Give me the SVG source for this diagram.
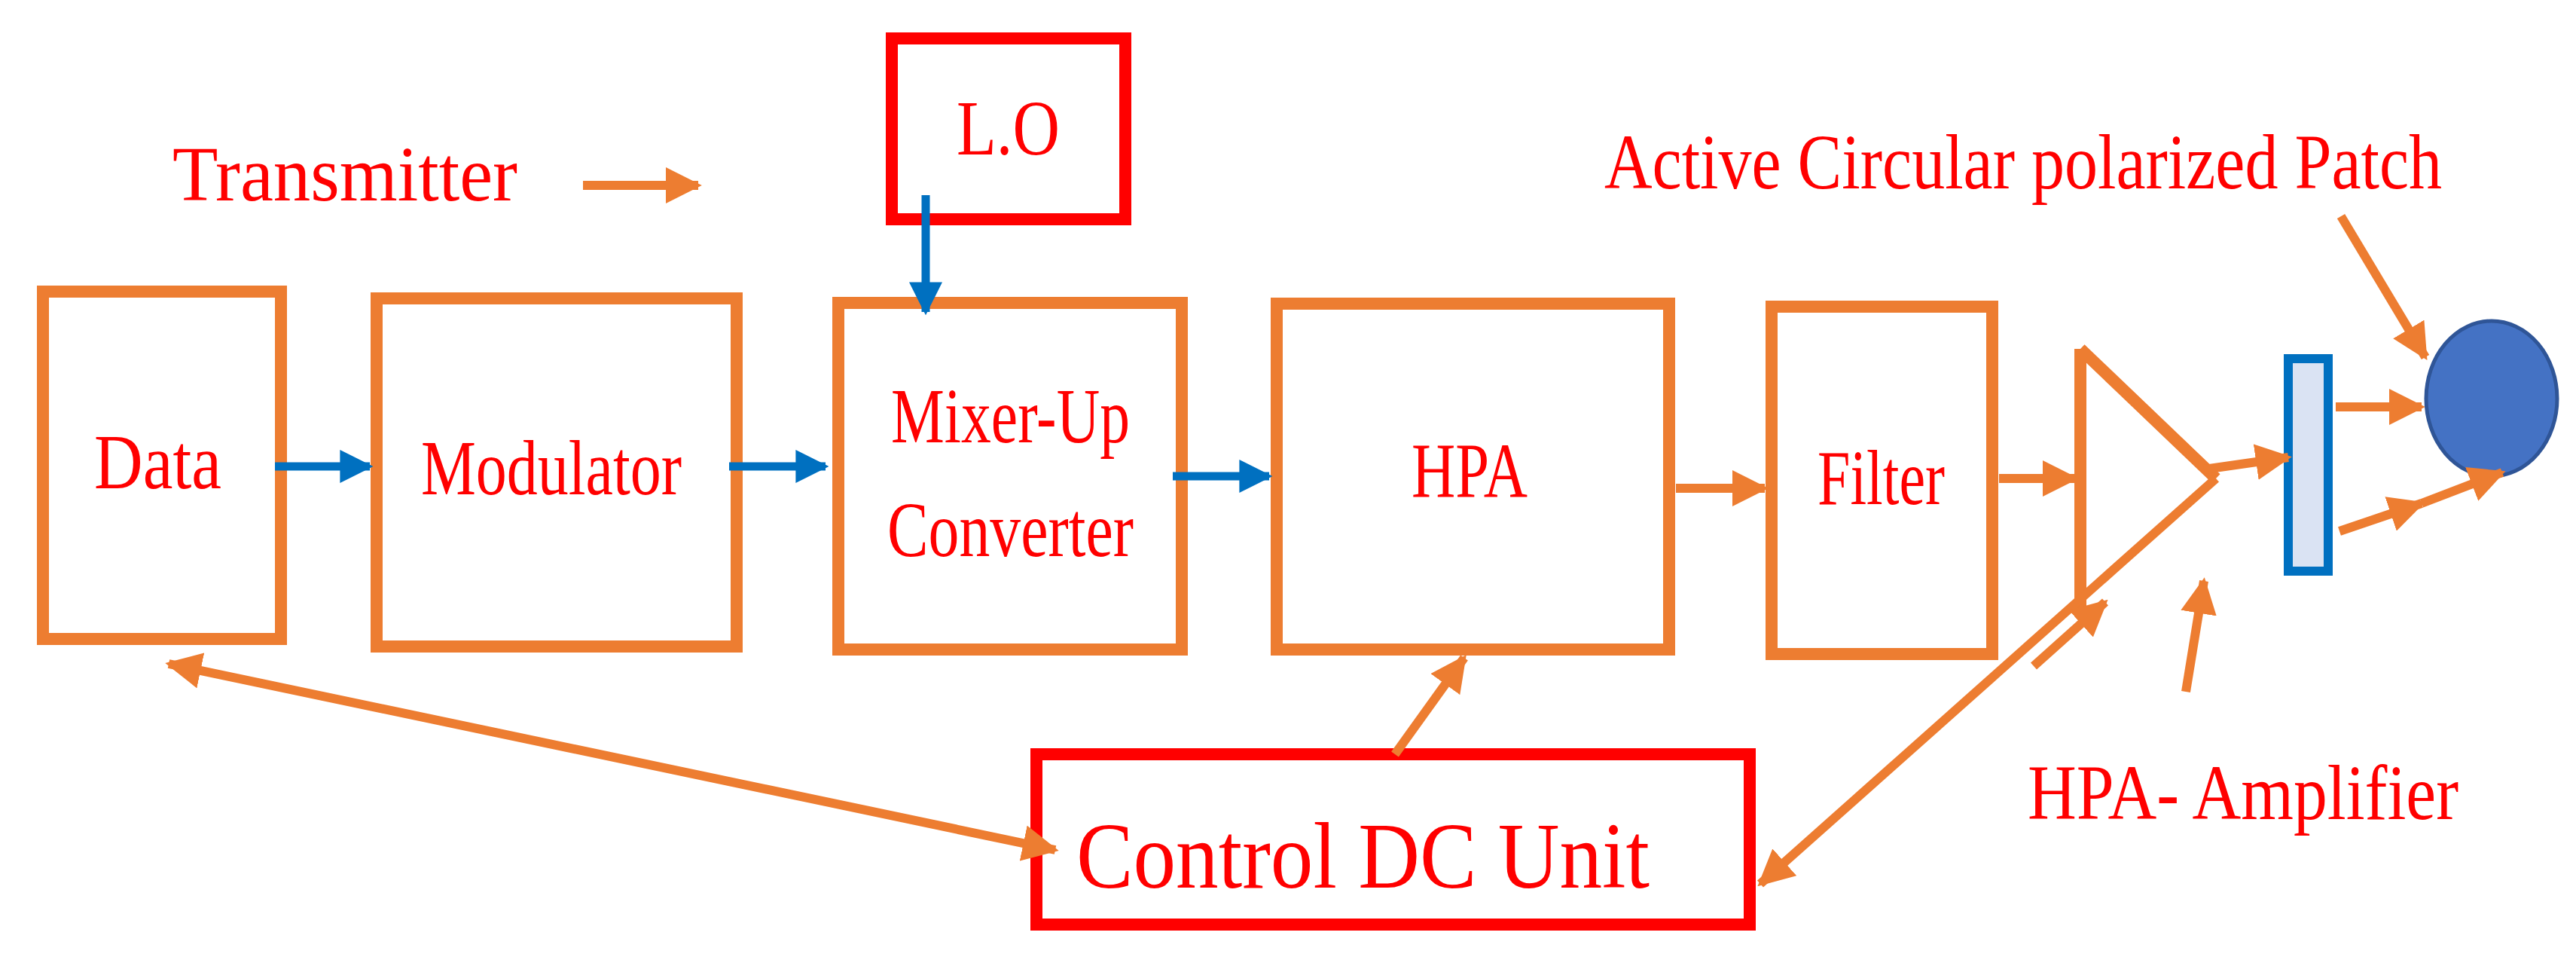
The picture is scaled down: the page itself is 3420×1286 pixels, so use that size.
<svg xmlns="http://www.w3.org/2000/svg" width="3420" height="1286" viewBox="0 0 3420 1286">
<style>
.ob{fill:none;stroke:#ed7d31;stroke-width:16}
.rb{fill:none;stroke:#ff0000;stroke-width:16}
.t{font-family:"Liberation Serif",serif;fill:#ff0000;font-size:104px}
.bl{stroke:#0070c0;stroke-width:11;fill:none}
.or{stroke:#ed7d31;stroke-width:12;fill:none}
</style>
<defs>
<marker id="ab" viewBox="0 0 10 10" refX="9" refY="5" markerWidth="4" markerHeight="4" orient="auto-start-reverse" markerUnits="strokeWidth"><path d="M0,0 L10,5 L0,10 z" fill="#0070c0"/></marker>
<marker id="ao" viewBox="0 0 10 10" refX="9" refY="5" markerWidth="4" markerHeight="4" orient="auto-start-reverse" markerUnits="strokeWidth"><path d="M0,0 L10,5 L0,10 z" fill="#ed7d31"/></marker>
</defs>
<rect width="3420" height="1286" fill="#fff"/>
<text class="t" x="229" y="266" textLength="458" lengthAdjust="spacingAndGlyphs">Transmitter</text>
<text class="t" x="2130" y="250" textLength="1112" lengthAdjust="spacingAndGlyphs">Active Circular polarized Patch</text>
<text class="t" x="2692" y="1087" textLength="572" lengthAdjust="spacingAndGlyphs">HPA- Amplifier</text>
<g id="data"><rect class="ob" x="57" y="387" width="316" height="461"/><text class="t" x="125" y="648" textLength="169" lengthAdjust="spacingAndGlyphs">Data</text></g>
<g id="modulator"><rect class="ob" x="500" y="396" width="478" height="462"/><text class="t" x="559" y="656" textLength="346" lengthAdjust="spacingAndGlyphs">Modulator</text></g>
<g id="mixer"><rect class="ob" x="1113" y="402" width="456" height="460"/><text class="t" x="1183" y="587" textLength="317" lengthAdjust="spacingAndGlyphs">Mixer-Up</text><text class="t" x="1178" y="738" textLength="327" lengthAdjust="spacingAndGlyphs">Converter</text></g>
<g id="lo"><rect class="rb" x="1184" y="51" width="310" height="240"/><text class="t" x="1270" y="205" textLength="137" lengthAdjust="spacingAndGlyphs">L.O</text></g>
<g id="hpa"><rect class="ob" x="1695" y="403" width="521" height="459"/><text class="t" x="1874" y="660" textLength="154" lengthAdjust="spacingAndGlyphs">HPA</text></g>
<g id="filter"><rect class="ob" x="2352" y="407" width="293" height="461"/><text class="t" x="2413" y="669" textLength="169" lengthAdjust="spacingAndGlyphs">Filter</text></g>
<g id="control"><rect class="rb" x="1376" y="1001" width="947" height="226"/><text class="t" style="font-size:124px" x="1429" y="1178" textLength="761" lengthAdjust="spacingAndGlyphs">Control DC Unit</text></g>
<g id="amplifier"><path d="M2762,463 L2762,808 M2762,463 L2942,635" class="ob" stroke-width="14"/></g>
<g id="bar"><rect x="3038" y="476" width="53" height="282" fill="#dae3f3" stroke="#0070c0" stroke-width="12"/></g>
<g id="patch"><ellipse cx="3308" cy="529" rx="87" ry="103" fill="#4472c4" stroke="#2f5597" stroke-width="5"/></g>
<g id="connectors">
<line class="bl" x1="365" y1="619" x2="491" y2="619" marker-end="url(#ab)"/>
<line class="bl" x1="968" y1="619" x2="1096" y2="619" marker-end="url(#ab)"/>
<line class="bl" x1="1557" y1="632" x2="1685" y2="632" marker-end="url(#ab)"/>
<line class="bl" x1="1229" y1="259" x2="1229" y2="414" marker-end="url(#ab)"/>
<line class="or" stroke-width="8" x1="774" y1="246" x2="927" y2="246" marker-end="url(#ao)"/>
<line class="or" x1="2225" y1="648" x2="2343" y2="648" marker-end="url(#ao)"/>
<line class="or" x1="2654" y1="635" x2="2755" y2="635" marker-end="url(#ao)"/>
<line class="or" x1="2926" y1="623" x2="3038" y2="607" marker-end="url(#ao)"/>
<line class="or" x1="3101" y1="540" x2="3215" y2="540" marker-end="url(#ao)"/>
<line class="or" x1="3106" y1="705" x2="3215" y2="668" marker-end="url(#ao)"/>
<line class="or" x1="3215" y1="668" x2="3322" y2="627" marker-end="url(#ao)"/>
<line class="or" x1="3108" y1="287" x2="3220" y2="474" marker-end="url(#ao)"/>
<line class="or" x1="2902" y1="918" x2="2926" y2="771" marker-end="url(#ao)"/>
<line class="or" x1="1852" y1="1001" x2="1944" y2="873" marker-end="url(#ao)"/>
<line class="or" x1="2942" y1="635" x2="2337" y2="1173" marker-end="url(#ao)"/>
<line class="or" x1="2700" y1="884" x2="2795" y2="799" marker-end="url(#ao)"/>
<line class="or" x1="224" y1="881" x2="1401" y2="1128" marker-start="url(#ao)" marker-end="url(#ao)"/>
</g>
</svg>
